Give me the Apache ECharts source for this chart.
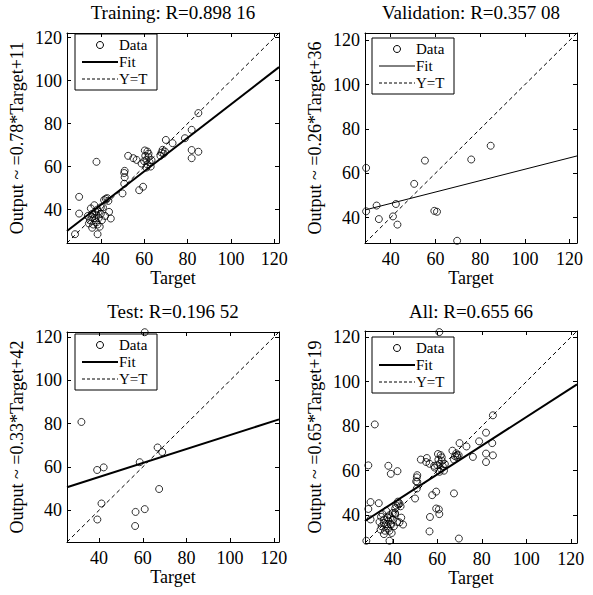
<!DOCTYPE html>
<html><head><meta charset="utf-8">
<script src="https://cdn.jsdelivr.net/npm/echarts@6/dist/echarts.min.js"></script>
<style>html,body{margin:0;padding:0;background:#fff}#c{width:593px;height:595px}</style>
</head><body><div id="c"></div>
<script>
// ---------- data ----------
const tickValues = [40, 60, 80, 100, 120];
const panelTitles = ['Training: R=0.898 16', 'Validation: R=0.357 08', 'Test: R=0.196 52', 'All: R=0.655 66'];
const panelYNames = ['Output ~ =0.78*Target+11', 'Output ~ =0.26*Target+36', 'Output ~ =0.33*Target+42', 'Output ~ =0.65*Target+19'];
const xName = 'Target';
const legendNames = ['Data', 'Fit', 'Y=T'];
// axis limits [min, max] (same for Target and Output)
const limTrain = [24.4, 122.2];
const limVal = [28.5, 123.3];
const limTest = [25.3, 122.4];
const limAll = [27.5, 122.8];
// [Target, Output]
const trainPoints = [
  [28.1,28.5],[30,45.9],[30,38.1],[38.5,28.5],[38,62.2],
  [35.4,40.5],[34,37],[35,35],[36,38],[36.5,33],[37,36],[37.5,39],[38,34],[38,37.5],[38.5,40],
  [39,36],[39.5,32],[40,38],[40.5,35],[41,41],[37,42],[36,31.5],[34.5,33.5],[39,39],[40,41],
  [42,37],[36,36.5],[37.5,35],[38.5,33],
  [41.5,44.4],[42.3,45],[43,45.3],[43.5,44],[44.6,35.8],[43.8,38.9],
  [50,47.5],[50.8,52],[51,55],[50.8,57],[51,58],[57.7,49],[59.5,50.6],[55,63.9],[56.5,63.1],[52.6,65],[58.8,61.4],
  [60.3,67.5],[60.5,65],[61,63],[61.5,61],[62,66],[62.5,62],[63,60],[61,59.5],[60,62.5],[62,64.5],[61.5,67],[63.4,63],
  [68,66.5],[68.5,67.8],[69,66],[69.6,67],[67.5,65],[70,72.4],[73.1,70.9],[78.8,73.2],
  [81.9,77.1],[81.9,67.7],[85,66.9],[81.9,63.9],[85,84.9]
];
const valPoints = [
  [29,62.4],[29,42.8],[33.7,45.4],[34.7,39.3],[42.3,46.1],[41,40.5],[43,36.8],
  [50.5,55.2],[55.3,65.7],[59.5,43],[60.7,42.6],[69.7,29.5],[76,66.2],[84.7,72.4]
];
const testPoints = [
  [60.9,122.3],[31.9,80.8],[39.1,58.6],[42.1,59.8],[41.1,43.1],[39.2,35.7],[58.6,62.2],
  [56.7,39.2],[60.9,40.5],[56.5,32.7],[66.8,69],[68.9,66.9],[67.5,49.8]
];
const allPoints = trainPoints.concat(valPoints, testPoints);
// fit line end points [Target, Output]
const fitTrain = [[24.4, 30.0], [122.2, 106.3]];
const fitVal = [[28.5, 43.4], [123.3, 67.8]];
const fitTest = [[25.3, 50.6], [122.4, 82.0]];
const fitAll = [[27.5, 37.4], [122.8, 98.8]];

// ---------- layout / style ----------
const FONT = '"Liberation Serif", "DejaVu Serif", serif';
const gridBoxes = [[67, 33, 212, 210], [365, 33, 212, 210], [67, 332, 212, 210], [365, 331, 212, 212]];
const titleTops = [3, 3, 302, 302];
const fitWidths = [2, 1, 2, 2];
const legendInset = [[8, 1], [7, 5], [8, 2], [7, 6]];

const lims = [limTrain, limVal, limTest, limAll];
const points = [trainPoints, valPoints, testPoints, allPoints];
const fits = [fitTrain, fitVal, fitTest, fitAll];

const grid = [], xAxis = [], yAxis = [], series = [], graphic = [];
for (let i = 0; i < 4; i++) {
  const [gl, gt, gw, gh] = gridBoxes[i];
  const lim = lims[i];
  grid.push({left: gl, top: gt, width: gw, height: gh, containLabel: false});
  const lineCommon = {show: true, onZero: false, lineStyle: {color: '#000', width: 1}};
  const tickCommon = {show: true, inside: true, length: 4, customValues: tickValues, lineStyle: {color: '#000', width: 1}};
  xAxis.push({
    gridIndex: i, type: 'value', position: 'bottom', min: lim[0], max: lim[1],
    axisLine: lineCommon, axisTick: tickCommon, splitLine: {show: false},
    axisLabel: {customValues: tickValues, color: '#000', fontFamily: FONT, fontSize: 18, margin: 7},
    name: xName, nameLocation: 'middle', nameGap: 26,
    nameTextStyle: {color: '#000', fontFamily: FONT, fontSize: 18}
  });
  xAxis.push({
    gridIndex: i, type: 'value', position: 'top', min: lim[0], max: lim[1],
    axisLine: lineCommon, axisTick: tickCommon, splitLine: {show: false}, axisLabel: {show: false}
  });
  yAxis.push({
    gridIndex: i, type: 'value', position: 'left', min: lim[0], max: lim[1],
    axisLine: lineCommon, axisTick: tickCommon, splitLine: {show: false},
    axisLabel: {customValues: tickValues, color: '#000', fontFamily: FONT, fontSize: 18, margin: 5},
    name: panelYNames[i], nameLocation: 'middle', nameRotate: 90, nameGap: 41,
    nameTextStyle: {color: '#000', fontFamily: FONT, fontSize: 18}
  });
  yAxis.push({
    gridIndex: i, type: 'value', position: 'right', min: lim[0], max: lim[1],
    axisLine: lineCommon, axisTick: tickCommon, splitLine: {show: false}, axisLabel: {show: false}
  });
  const xi = 2 * i, yi = 2 * i;
  series.push({
    name: legendNames[0], type: 'scatter', xAxisIndex: xi, yAxisIndex: yi, data: points[i],
    symbol: 'circle', symbolSize: 7,
    itemStyle: {color: 'rgba(0,0,0,0)', borderColor: '#000', borderWidth: 1}, z: 3
  });
  series.push({
    name: legendNames[1], type: 'line', xAxisIndex: xi, yAxisIndex: yi, data: fits[i],
    symbol: 'none', lineStyle: {color: '#000', width: fitWidths[i]}, z: 4
  });
  series.push({
    name: legendNames[2], type: 'line', xAxisIndex: xi, yAxisIndex: yi, data: [[lim[0], lim[0]], [lim[1], lim[1]]],
    symbol: 'none', lineStyle: {color: '#000', width: 1, type: [4, 3]}, z: 4
  });
  // title
  graphic.push({
    type: 'text', x: gl + gw / 2, y: titleTops[i],
    style: {text: panelTitles[i], fill: '#000', font: '19px ' + FONT, align: 'center', verticalAlign: 'top'}
  });
  // legend box
  const lx = gl + legendInset[i][0], ly = gt + legendInset[i][1];
  graphic.push({
    type: 'group', x: lx, y: ly, children: [
      {type: 'rect', shape: {x: 0, y: 0, width: 82, height: 56}, style: {fill: '#fff', stroke: '#000', lineWidth: 1}},
      {type: 'circle', shape: {cx: 25, cy: 11, r: 3.5}, style: {fill: 'none', stroke: '#000', lineWidth: 1}},
      {type: 'text', x: 44, y: 11, style: {text: legendNames[0], fill: '#000', font: '15px ' + FONT, verticalAlign: 'middle'}},
      {type: 'line', shape: {x1: 7, y1: 28, x2: 43, y2: 28}, style: {stroke: '#000', lineWidth: fitWidths[i]}},
      {type: 'text', x: 44, y: 28, style: {text: legendNames[1], fill: '#000', font: '15px ' + FONT, verticalAlign: 'middle'}},
      {type: 'line', shape: {x1: 7, y1: 45, x2: 43, y2: 45}, style: {stroke: '#000', lineWidth: 1, lineDash: [3, 2]}},
      {type: 'text', x: 44, y: 45, style: {text: legendNames[2], fill: '#000', font: '15px ' + FONT, verticalAlign: 'middle'}}
    ]
  });
}

const chart = echarts.init(document.getElementById('c'), null, {renderer: 'svg'});
chart.setOption({
  backgroundColor: '#fff',
  animation: false,
  grid, xAxis, yAxis, series, graphic
});
</script>
</body></html>
